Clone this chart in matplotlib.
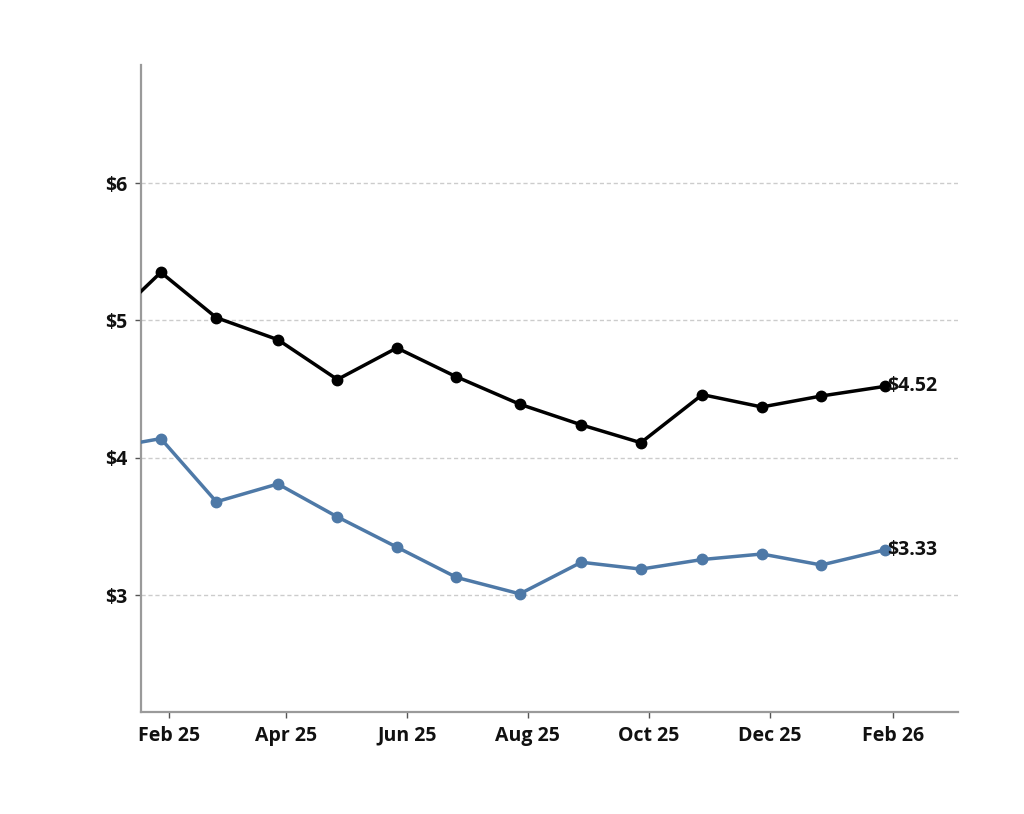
import numpy as np
import pandas as pd
import matplotlib
matplotlib.use("Agg")
import matplotlib.pyplot as plt
import matplotlib.dates as mdates

plt.rcParams['font.family'] = ['Open Sans', 'DejaVu Sans']

# monthly observation dates (first one sits just left of the visible window)
dates = pd.to_datetime([
    "2024-12-28", "2025-01-28", "2025-02-25", "2025-03-28", "2025-04-27",
    "2025-05-27", "2025-06-26", "2025-07-28", "2025-08-28", "2025-09-27",
    "2025-10-28", "2025-11-27", "2025-12-27", "2026-01-28",
])
black_vals = [4.92, 5.35, 5.02, 4.86, 4.57, 4.80, 4.59, 4.39, 4.24, 4.11,
              4.46, 4.37, 4.45, 4.52]
blue_vals = [4.06, 4.14, 3.68, 3.81, 3.57, 3.35, 3.13, 3.01, 3.24, 3.19,
             3.26, 3.30, 3.22, 3.33]

y_ticks = [3, 4, 5, 6]
x_ticks = pd.to_datetime(["2025-02-01", "2025-04-01", "2025-06-01", "2025-08-01",
                          "2025-10-01", "2025-12-01", "2026-02-01"])
x_labels = ["Feb 25", "Apr 25", "Jun 25", "Aug 25", "Oct 25", "Dec 25", "Feb 26"]

BLUE = "#4e79a7"
AXIS_GREY = "#9a9a9a"
FONT_W = "bold"
FS = 14

fig = plt.figure(figsize=(10.24, 8.14), dpi=100)
ax = fig.add_axes([0.1377, 0.1253, 0.798, 0.795])

ax.plot(dates, black_vals, color="black", lw=2.5, marker="o", ms=7.5, zorder=3)
ax.plot(dates, blue_vals, color=BLUE, lw=2.5, marker="o", ms=7.5, zorder=3)

for vals in (black_vals, blue_vals):
    ax.annotate(f"${vals[-1]:.2f}", (dates[-1], vals[-1]), xytext=(2, 0),
                textcoords="offset points", va="center", ha="left",
                fontsize=FS, fontweight=FONT_W, color="#111111")

ax.set_xlim(pd.Timestamp("2025-01-18"), pd.Timestamp("2026-03-06"))
ax.set_ylim(2.15, 6.86)

ax.set_yticks(y_ticks)
ax.set_yticklabels([f"${v}" for v in y_ticks])
ax.set_xticks(x_ticks)
ax.set_xticklabels(x_labels)

ax.grid(axis="y", color="#cccccc", linestyle=(0, (3, 2)), lw=1)
ax.set_axisbelow(True)

for s in ["top", "right"]:
    ax.spines[s].set_visible(False)
for s in ["left", "bottom"]:
    ax.spines[s].set_color(AXIS_GREY)
    ax.spines[s].set_linewidth(1.6)

ax.tick_params(axis="both", length=4, width=1, color="#555555",
               labelsize=FS, pad=6)
for lab in ax.get_xticklabels() + ax.get_yticklabels():
    lab.set_fontweight(FONT_W)
    lab.set_color("#111111")

fig.savefig("out.png", dpi=100)
